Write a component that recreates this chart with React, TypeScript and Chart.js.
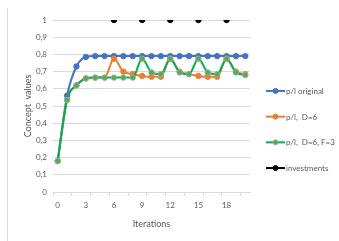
import React, { useEffect, useRef } from "react";
import { Chart, registerables } from "chart.js";

Chart.register(...registerables);

const iterations = Array.from({ length: 21 }, (_, i) => String(i));
const seriesNames = ["p/l original", "p/l,  D=6", "p/l,  D=6, F=3", "investments"];
const plOriginal = [0.18, 0.56, 0.73, 0.785, 0.79, 0.79, 0.79, 0.79, 0.79, 0.79, 0.79, 0.79, 0.79, 0.79, 0.79, 0.79, 0.79, 0.79, 0.79, 0.79, 0.79];
const plD6 = [0.18, 0.535, 0.62, 0.66, 0.665, 0.665, 0.775, 0.70, 0.685, 0.675, 0.67, 0.67, 0.775, 0.70, 0.685, 0.675, 0.67, 0.67, 0.775, 0.70, 0.685];
const plD6F3 = [0.18, 0.535, 0.62, 0.66, 0.665, 0.665, 0.665, 0.665, 0.665, 0.775, 0.695, 0.685, 0.775, 0.695, 0.685, 0.775, 0.695, 0.685, 0.775, 0.695, 0.68];
const investments: (number | null)[] = [null, null, null, null, null, null, 1, null, null, 1, null, null, 1, null, null, 1, null, null, 1, null, null];
const yTicks = [0, 0.1, 0.2, 0.3, 0.4, 0.5, 0.6, 0.7, 0.8, 0.9, 1];

const FONT = "Lato, 'Open Sans', sans-serif";
const TEXT = "#595959";
const GRID = "#d9d9d9";

const legendPlugin = {
  id: "excelLegend",
  afterDraw(chart: any) {
    const { ctx, chartArea } = chart;
    const n = chart.data.datasets.length;
    const midY = (chartArea.top + chartArea.bottom) / 2 + 23.5;
    const x0 = chartArea.right + 16;
    ctx.save();
    chart.data.datasets.forEach((ds: any, i: number) => {
      const y = midY + (i - (n - 1) / 2) * 25.7;
      ctx.strokeStyle = ds.borderColor;
      ctx.lineWidth = 2;
      ctx.beginPath();
      ctx.moveTo(x0, y);
      ctx.lineTo(x0 + 19, y);
      ctx.stroke();
      ctx.beginPath();
      ctx.arc(x0 + 9.5, y, 2.5, 0, Math.PI * 2);
      ctx.fillStyle = ds.pointBackgroundColor;
      ctx.fill();
      ctx.lineWidth = 1;
      ctx.strokeStyle = ds.pointBorderColor;
      ctx.stroke();
      ctx.fillStyle = TEXT;
      ctx.font = `8px ${FONT}`;
      ctx.textBaseline = "middle";
      ctx.textAlign = "left";
      ctx.fillText(ds.label, x0 + 20, y + 0.5);
    });
    ctx.restore();
  },
};

export default function App() {
  const canvasRef = useRef<HTMLCanvasElement>(null);

  useEffect(() => {
    document.body.style.margin = "0";
    const canvas = canvasRef.current;
    if (!canvas) return;
    const mk = (label: string, data: (number | null)[], color: string, pointBg: string, pointBorder: string, order: number) => ({
      label,
      data,
      borderColor: color,
      backgroundColor: color,
      pointBackgroundColor: pointBg,
      pointBorderColor: pointBorder,
      pointBorderWidth: 1,
      pointRadius: 2.7,
      borderWidth: 2,
      cubicInterpolationMode: "monotone" as const,
      spanGaps: false,
      order,
    });
    const chart = new Chart(canvas, {
      type: "line",
      data: {
        labels: iterations,
        datasets: [
          mk(seriesNames[0], plOriginal, "#4472C4", "#4472C4", "#4472C4", 4),
          mk(seriesNames[1], plD6, "#ED7D31", "#ED7D31", "#ED7D31", 3),
          mk(seriesNames[2], plD6F3, "#00B050", "#4CAF50", "#A5A5A5", 2),
          mk(seriesNames[3], investments, "#000000", "#000000", "#000000", 1),
        ],
      },
      options: {
        animation: false,
        responsive: false,
        devicePixelRatio: 1,
        layout: { padding: { top: 20, right: 89, bottom: 0, left: 0 } },
        plugins: { legend: { display: false }, tooltip: { enabled: false } },
        scales: {
          x: {
            type: "category",
            offset: true,
            afterFit(scale: any) {
              scale.height = 49;
            },
            grid: {
              offset: true,
              drawOnChartArea: false,
              drawTicks: true,
              tickLength: 4,
              tickColor: (c: any) => (c.index % 2 === 0 ? GRID : "rgba(0,0,0,0)"),
              color: "rgba(0,0,0,0)",
            },
            border: { display: true, color: GRID, width: 1 },
            ticks: {
              autoSkip: false,
              maxRotation: 0,
              padding: 5,
              color: TEXT,
              font: { family: FONT, size: 8 },
              callback: (_v: any, i: number) => (i % 3 === 0 ? iterations[i] : ""),
            },
            title: {
              display: true,
              text: "Iterations",
              color: TEXT,
              font: { family: FONT, size: 9 },
              padding: { top: 0, bottom: 12 },
            },
          },
          y: {
            min: 0,
            max: 1,
            afterFit(scale: any) {
              scale.width = 53;
            },
            afterBuildTicks(scale: any) {
              scale.ticks = yTicks.map((v) => ({ value: v }));
            },
            grid: { color: GRID, drawTicks: false, lineWidth: 1 },
            border: { display: false },
            ticks: {
              padding: 6,
              color: TEXT,
              font: { family: FONT, size: 8 },
              callback: (v: any) => String(Math.round(Number(v) * 10) / 10).replace(".", ","),
            },
            title: {
              display: true,
              text: "Concept  values",
              color: TEXT,
              font: { family: FONT, size: 9 },
              padding: { top: 22.6, bottom: 0 },
            },
          },
        },
      },
      plugins: [legendPlugin],
    });
    return () => chart.destroy();
  }, []);

  return (
    <div style={{ position: "absolute", left: 0, top: 0, width: 339, height: 241 }}>
      <div style={{ position: "absolute", left: 7, top: 8, bottom: 0, width: 0, borderLeft: "1px solid #d9d9d9" }} />
      <canvas ref={canvasRef} width={339} height={241} style={{ display: "block", width: 339, height: 241 }} />
    </div>
  );
}
